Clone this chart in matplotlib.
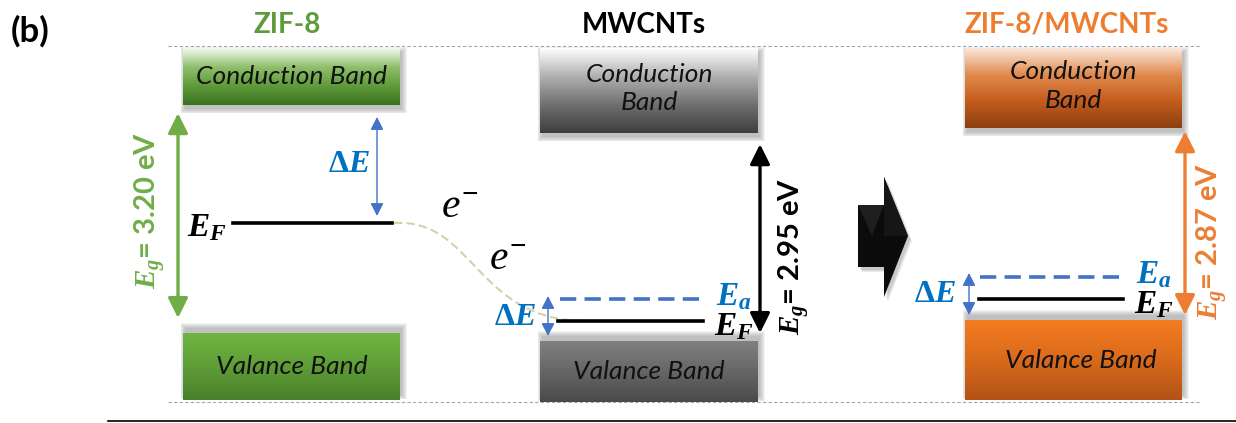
import numpy as np
import matplotlib.pyplot as plt
from matplotlib.colors import LinearSegmentedColormap
from matplotlib.patches import Rectangle, Polygon, PathPatch
from matplotlib.path import Path

plt.rcParams['font.family'] = ['Lato', 'DejaVu Sans']
plt.rcParams['mathtext.fontset'] = 'custom'
plt.rcParams['mathtext.bf'] = 'Liberation Serif:bold:italic'
plt.rcParams['mathtext.it'] = 'Liberation Serif:italic'
plt.rcParams['mathtext.rm'] = 'Liberation Serif:bold'

# materials and their band gaps (eV)
materials = ['ZIF-8', 'MWCNTs', 'ZIF-8/MWCNTs']
band_gap = [3.20, 2.95, 2.87]
title_color = ['#5E9C3B', '#000000', '#ED7D31']
gap_color = ['#70AD47', '#000000', '#ED7D31']

# band edges / levels on the drawing (rows, top = 0)
cb_top = [48, 48, 48]
cb_bottom = [105, 133, 128]
vb_top = [333, 341, 320]
vb_bottom = [400, 402, 400]
fermi_level = [223, 321, 299]
acceptor_level = [None, 299, 277]
cb_text = ['Conduction Band', 'Conduction\nBand', 'Conduction\nBand']

# horizontal placement of each column
box_left = [183, 540, 965]
box_right = [400, 758, 1182]
px_per_ev = 64

cb_colors = [['#f4f8f0', '#8fbf6c', '#5f9a3a', '#3b7220'],
             ['#ffffff', '#b0b0b0', '#707070', '#3e3e3e'],
             ['#fbe7da', '#e08a4e', '#c45c1c', '#8c3f10']]
vb_colors = [['#6fb640', '#5f9d37', '#4a7f2a'],
             ['#808080', '#666666', '#4a4a4a'],
             ['#f47b20', '#d96a1c', '#b35216']]

fig = plt.figure(figsize=(12.36, 4.23), dpi=100)
ax = fig.add_axes([0, 0, 1, 1])
ax.axis('off')


def shadow(x0, x1, y0, y1, dy):
    # soft grey shadow made of a few stacked translucent rectangles
    for k in range(6):
        g = k * 0.9
        ax.add_patch(Rectangle((x0 + 2 - g, y0 + dy - g), x1 - x0 + 2 * g, y1 - y0 + 2 * g,
                               facecolor='#555555', edgecolor='none', alpha=0.07, zorder=1))


def gradient_box(x0, x1, y0, y1, colors):
    cmap = LinearSegmentedColormap.from_list('g', colors)
    grad = np.linspace(0, 1, 200)[:, None]
    ax.imshow(grad, cmap=cmap, extent=[x0, x1, y1, y0], aspect='auto', zorder=2,
              interpolation='bicubic')


def double_arrow(x, y0, y1, color, lw, hl, hw, scale):
    ax.annotate('', xy=(x, y0), xytext=(x, y1),
                arrowprops=dict(arrowstyle='<|-|>,head_length=%g,head_width=%g' % (hl, hw),
                                color=color, lw=lw, mutation_scale=scale,
                                shrinkA=0, shrinkB=0), zorder=5)


# guide lines
ax.plot([168, 1200], [46, 46], color='#a6a6a6', lw=0.8, ls=(0, (3, 2)), zorder=0)
ax.plot([168, 1200], [402, 402], color='#a6a6a6', lw=0.8, ls=(0, (3, 2)), zorder=0)
ax.plot([108, 1236], [421, 421], color='#000000', lw=1.2, zorder=0)

ax.text(11, 31, '(b)', fontsize=25, fontweight='bold', ha='left', va='center')

title_x = [287, 644, 1067]
for i, name in enumerate(materials):
    x0, x1 = box_left[i], box_right[i]
    xc = (x0 + x1) / 2
    ax.text(title_x[i], 25, name, fontsize=20, fontweight='bold', color=title_color[i],
            ha='center', va='center')

    # conduction band with shadow below, valence band with shadow above
    shadow(x0, x1, cb_top[i], cb_bottom[i], 4)
    gradient_box(x0, x1, cb_top[i], cb_bottom[i], cb_colors[i])
    shadow(x0, x1, vb_top[i], vb_bottom[i], -5)
    gradient_box(x0, x1, vb_top[i], vb_bottom[i], vb_colors[i])

    ax.text(xc, (cb_top[i] + cb_bottom[i]) / 2 + (0 if i == 0 else -2), cb_text[i],
            fontsize=19, style='italic', ha='center', va='center', linespacing=1.3,
            color='#111111', zorder=4)
    vb_shift = [0, 0, 7][i]
    ax.text(xc + vb_shift, (vb_top[i] + vb_bottom[i]) / 2, 'Valance Band',
            fontsize=19, style='italic', ha='center', va='center', color='#111111', zorder=4)

# ZIF-8 column
double_arrow(178, fermi_level[0] + 95 - band_gap[0] * px_per_ev, fermi_level[0] + 95,
             gap_color[0], 2.4, 0.6, 0.3, 20)
ax.text(150, 210, r'$\mathbf{E}_{\mathbf{g}}$= 3.20 eV', rotation=90, fontsize=21,
        fontweight='bold', color=gap_color[0], ha='center', va='center')
ax.plot([233, 392], [fermi_level[0]] * 2, color='black', lw=2.6, zorder=4)
ax.text(207, 228, r'$\mathbf{E}_{\mathbf{F}}$', fontsize=24, ha='center', va='center')
double_arrow(377, 117, fermi_level[0] - 7, '#4472C4', 1.0, 0.55, 0.28, 14)
ax.text(349, 163, r'$\mathrm{Δ}\mathbf{E}$', fontsize=23, color='#0070C0',
        ha='center', va='center')

# electron transfer path
path = Path([(394, fermi_level[0]), (475, 218), (475, 322), (588, fermi_level[1])],
            [Path.MOVETO, Path.CURVE4, Path.CURVE4, Path.CURVE4])
ax.add_patch(PathPatch(path, facecolor='none', edgecolor='#d4d2a8', lw=1.5,
                       ls=(0, (4, 2)), zorder=3))
ax.text(460, 206, r'$e^{-}$', fontsize=30, ha='center', va='center')
ax.text(508, 257, r'$e^{-}$', fontsize=30, ha='center', va='center')

# MWCNTs column
double_arrow(760, vb_top[1] - 8 - band_gap[1] * px_per_ev, vb_top[1] - 8,
             gap_color[1], 2.4, 0.6, 0.3, 20)
ax.text(795, 256, r'$\mathbf{E}_{\mathbf{g}}$= 2.95 eV', rotation=90, fontsize=21,
        fontweight='bold', color=gap_color[1], ha='center', va='center')
ax.plot([560, 705], [acceptor_level[1]] * 2, color='#4472C4', lw=2.6,
        ls=(0, (4.5, 2.3)), zorder=4)
ax.plot([558, 703], [fermi_level[1]] * 2, color='black', lw=2.6, zorder=4)
ax.text(734, 297, r'$\mathbf{E}_{\mathbf{a}}$', fontsize=24, color='#0070C0',
        ha='center', va='center')
ax.text(734, 327, r'$\mathbf{E}_{\mathbf{F}}$', fontsize=24, ha='center', va='center')
double_arrow(548, acceptor_level[1] - 3, vb_top[1] - 5, '#4472C4', 1.0, 0.55, 0.28, 14)
ax.text(515, 316, r'$\mathrm{Δ}\mathbf{E}$', fontsize=23, color='#0070C0',
        ha='center', va='center')

# big 3D arrow between panels
arrow_pts = [(858, 205), (884, 205), (884, 177), (908, 236), (884, 297), (884, 267), (858, 267)]
for k in range(5):
    ax.add_patch(Polygon([(x + 2 + k * 0.5, y + 3 + k * 0.5) for x, y in arrow_pts],
                         closed=True, facecolor='#666666', edgecolor='none', alpha=0.08,
                         zorder=3))
ax.add_patch(Polygon(arrow_pts, closed=True, facecolor='#0b0b0b', edgecolor='none', zorder=4))
ax.add_patch(Polygon([(858, 205), (884, 205), (872, 236)], closed=True,
                     facecolor='#1e1e1e', edgecolor='none', zorder=4))
ax.add_patch(Polygon([(884, 177), (908, 236), (884, 236)], closed=True,
                     facecolor='#161616', edgecolor='none', zorder=4))

# ZIF-8/MWCNTs column
double_arrow(1185, vb_top[2] - 5 - band_gap[2] * px_per_ev, vb_top[2] - 5,
             gap_color[2], 2.4, 0.6, 0.3, 20)
ax.text(1213, 241, r'$\mathbf{E}_{\mathbf{g}}$= 2.87 eV', rotation=90, fontsize=21,
        fontweight='bold', color=gap_color[2], ha='center', va='center')
ax.plot([980, 1125], [acceptor_level[2]] * 2, color='#4472C4', lw=2.6,
        ls=(0, (4.5, 2.3)), zorder=4)
ax.plot([979, 1123], [fermi_level[2]] * 2, color='black', lw=2.6, zorder=4)
ax.text(1154, 275, r'$\mathbf{E}_{\mathbf{a}}$', fontsize=24, color='#0070C0',
        ha='center', va='center')
ax.text(1154, 305, r'$\mathbf{E}_{\mathbf{F}}$', fontsize=24, ha='center', va='center')
double_arrow(969, acceptor_level[2] - 4, vb_top[2] - 5, '#4472C4', 1.0, 0.55, 0.28, 14)
ax.text(935, 293, r'$\mathrm{Δ}\mathbf{E}$', fontsize=23, color='#0070C0',
        ha='center', va='center')

ax.set_xlim(0, 1236)
ax.set_ylim(423, 0)
fig.savefig('out.png', dpi=100)
